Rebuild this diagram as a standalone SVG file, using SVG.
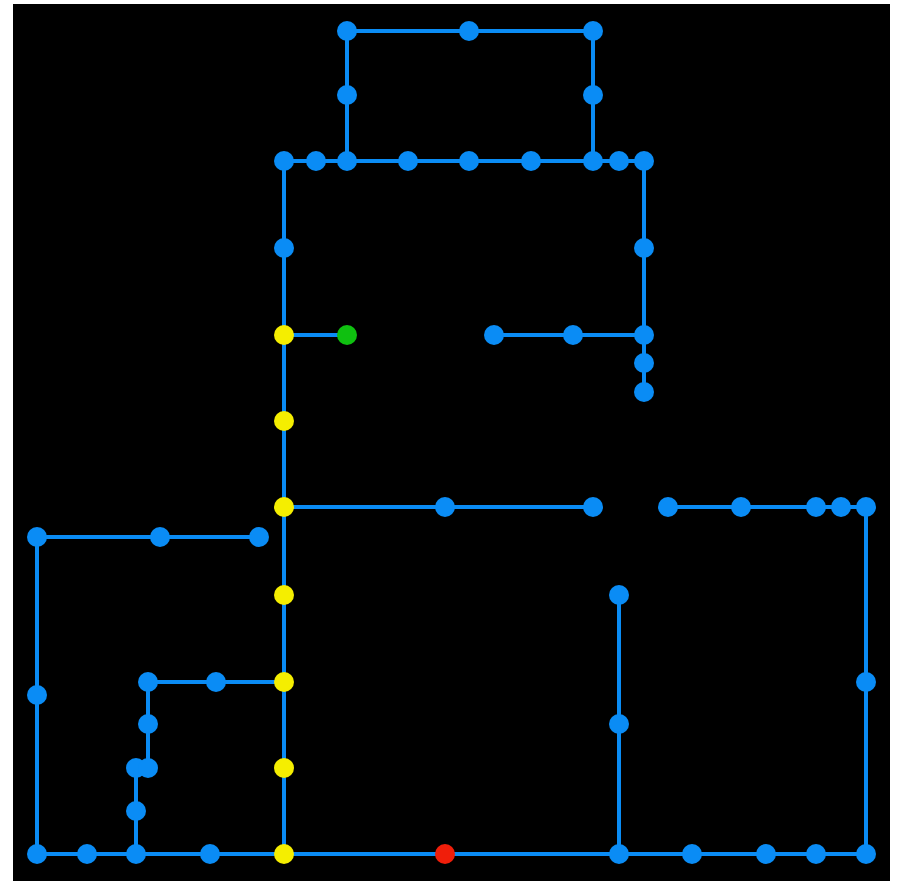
<svg xmlns="http://www.w3.org/2000/svg" width="898" height="881" viewBox="0 0 898 881">
<style>
.e{stroke:#0a8cf5;stroke-width:4;fill:none;stroke-linecap:butt}
.n{fill:#0a8cf5}
.y{fill:#f5ee00}
.g{fill:#0fc010}
.r{fill:#f01e0a}
</style>
<rect width="898" height="881" fill="#ffffff"/>
<rect x="13" y="4" width="877" height="877" fill="#000000"/>
<g id="edges">
<path class="e" d="M37 854H866M37 537V854M37 537H259M284 161V854M284 161H644M347 31H593M347 31V161M593 31V161M644 161V392M284 335H347M494 335H644M284 507H593M668 507H866M866 507V854M619 595V854M148 682H284M148 682V768M136 768H148M136 768V854"/>
</g>
<g id="n1"><circle class="n" cx="347" cy="31" r="10"/></g>
<g id="n2"><circle class="n" cx="469" cy="31" r="10"/></g>
<g id="n3"><circle class="n" cx="593" cy="31" r="10"/></g>
<g id="n4"><circle class="n" cx="347" cy="95" r="10"/></g>
<g id="n5"><circle class="n" cx="593" cy="95" r="10"/></g>
<g id="n6"><circle class="n" cx="284" cy="161" r="10"/></g>
<g id="n7"><circle class="n" cx="316" cy="161" r="10"/></g>
<g id="n8"><circle class="n" cx="347" cy="161" r="10"/></g>
<g id="n9"><circle class="n" cx="408" cy="161" r="10"/></g>
<g id="n10"><circle class="n" cx="469" cy="161" r="10"/></g>
<g id="n11"><circle class="n" cx="531" cy="161" r="10"/></g>
<g id="n12"><circle class="n" cx="593" cy="161" r="10"/></g>
<g id="n13"><circle class="n" cx="619" cy="161" r="10"/></g>
<g id="n14"><circle class="n" cx="644" cy="161" r="10"/></g>
<g id="n15"><circle class="n" cx="284" cy="248" r="10"/></g>
<g id="n16"><circle class="n" cx="644" cy="248" r="10"/></g>
<g id="n17"><circle class="y" cx="284" cy="335" r="10"/></g>
<g id="n18"><circle class="g" cx="347" cy="335" r="10"/></g>
<g id="n19"><circle class="n" cx="494" cy="335" r="10"/></g>
<g id="n20"><circle class="n" cx="573" cy="335" r="10"/></g>
<g id="n21"><circle class="n" cx="644" cy="335" r="10"/></g>
<g id="n22"><circle class="n" cx="644" cy="363" r="10"/></g>
<g id="n23"><circle class="n" cx="644" cy="392" r="10"/></g>
<g id="n24"><circle class="y" cx="284" cy="421" r="10"/></g>
<g id="n25"><circle class="y" cx="284" cy="507" r="10"/></g>
<g id="n26"><circle class="n" cx="445" cy="507" r="10"/></g>
<g id="n27"><circle class="n" cx="593" cy="507" r="10"/></g>
<g id="n28"><circle class="n" cx="668" cy="507" r="10"/></g>
<g id="n29"><circle class="n" cx="741" cy="507" r="10"/></g>
<g id="n30"><circle class="n" cx="816" cy="507" r="10"/></g>
<g id="n31"><circle class="n" cx="841" cy="507" r="10"/></g>
<g id="n32"><circle class="n" cx="866" cy="507" r="10"/></g>
<g id="n33"><circle class="n" cx="37" cy="537" r="10"/></g>
<g id="n34"><circle class="n" cx="160" cy="537" r="10"/></g>
<g id="n35"><circle class="n" cx="259" cy="537" r="10"/></g>
<g id="n36"><circle class="y" cx="284" cy="595" r="10"/></g>
<g id="n37"><circle class="n" cx="619" cy="595" r="10"/></g>
<g id="n38"><circle class="n" cx="37" cy="695" r="10"/></g>
<g id="n39"><circle class="n" cx="148" cy="682" r="10"/></g>
<g id="n40"><circle class="n" cx="216" cy="682" r="10"/></g>
<g id="n41"><circle class="y" cx="284" cy="682" r="10"/></g>
<g id="n42"><circle class="n" cx="866" cy="682" r="10"/></g>
<g id="n43"><circle class="n" cx="148" cy="724" r="10"/></g>
<g id="n44"><circle class="n" cx="619" cy="724" r="10"/></g>
<g id="n45"><circle class="n" cx="136" cy="768" r="10"/></g>
<g id="n46"><circle class="n" cx="148" cy="768" r="10"/></g>
<g id="n47"><circle class="y" cx="284" cy="768" r="10"/></g>
<g id="n48"><circle class="n" cx="136" cy="811" r="10"/></g>
<g id="n49"><circle class="n" cx="37" cy="854" r="10"/></g>
<g id="n50"><circle class="n" cx="87" cy="854" r="10"/></g>
<g id="n51"><circle class="n" cx="136" cy="854" r="10"/></g>
<g id="n52"><circle class="n" cx="210" cy="854" r="10"/></g>
<g id="n53"><circle class="y" cx="284" cy="854" r="10"/></g>
<g id="n54"><circle class="r" cx="445" cy="854" r="10"/></g>
<g id="n55"><circle class="n" cx="619" cy="854" r="10"/></g>
<g id="n56"><circle class="n" cx="692" cy="854" r="10"/></g>
<g id="n57"><circle class="n" cx="766" cy="854" r="10"/></g>
<g id="n58"><circle class="n" cx="816" cy="854" r="10"/></g>
<g id="n59"><circle class="n" cx="866" cy="854" r="10"/></g>
</svg>
